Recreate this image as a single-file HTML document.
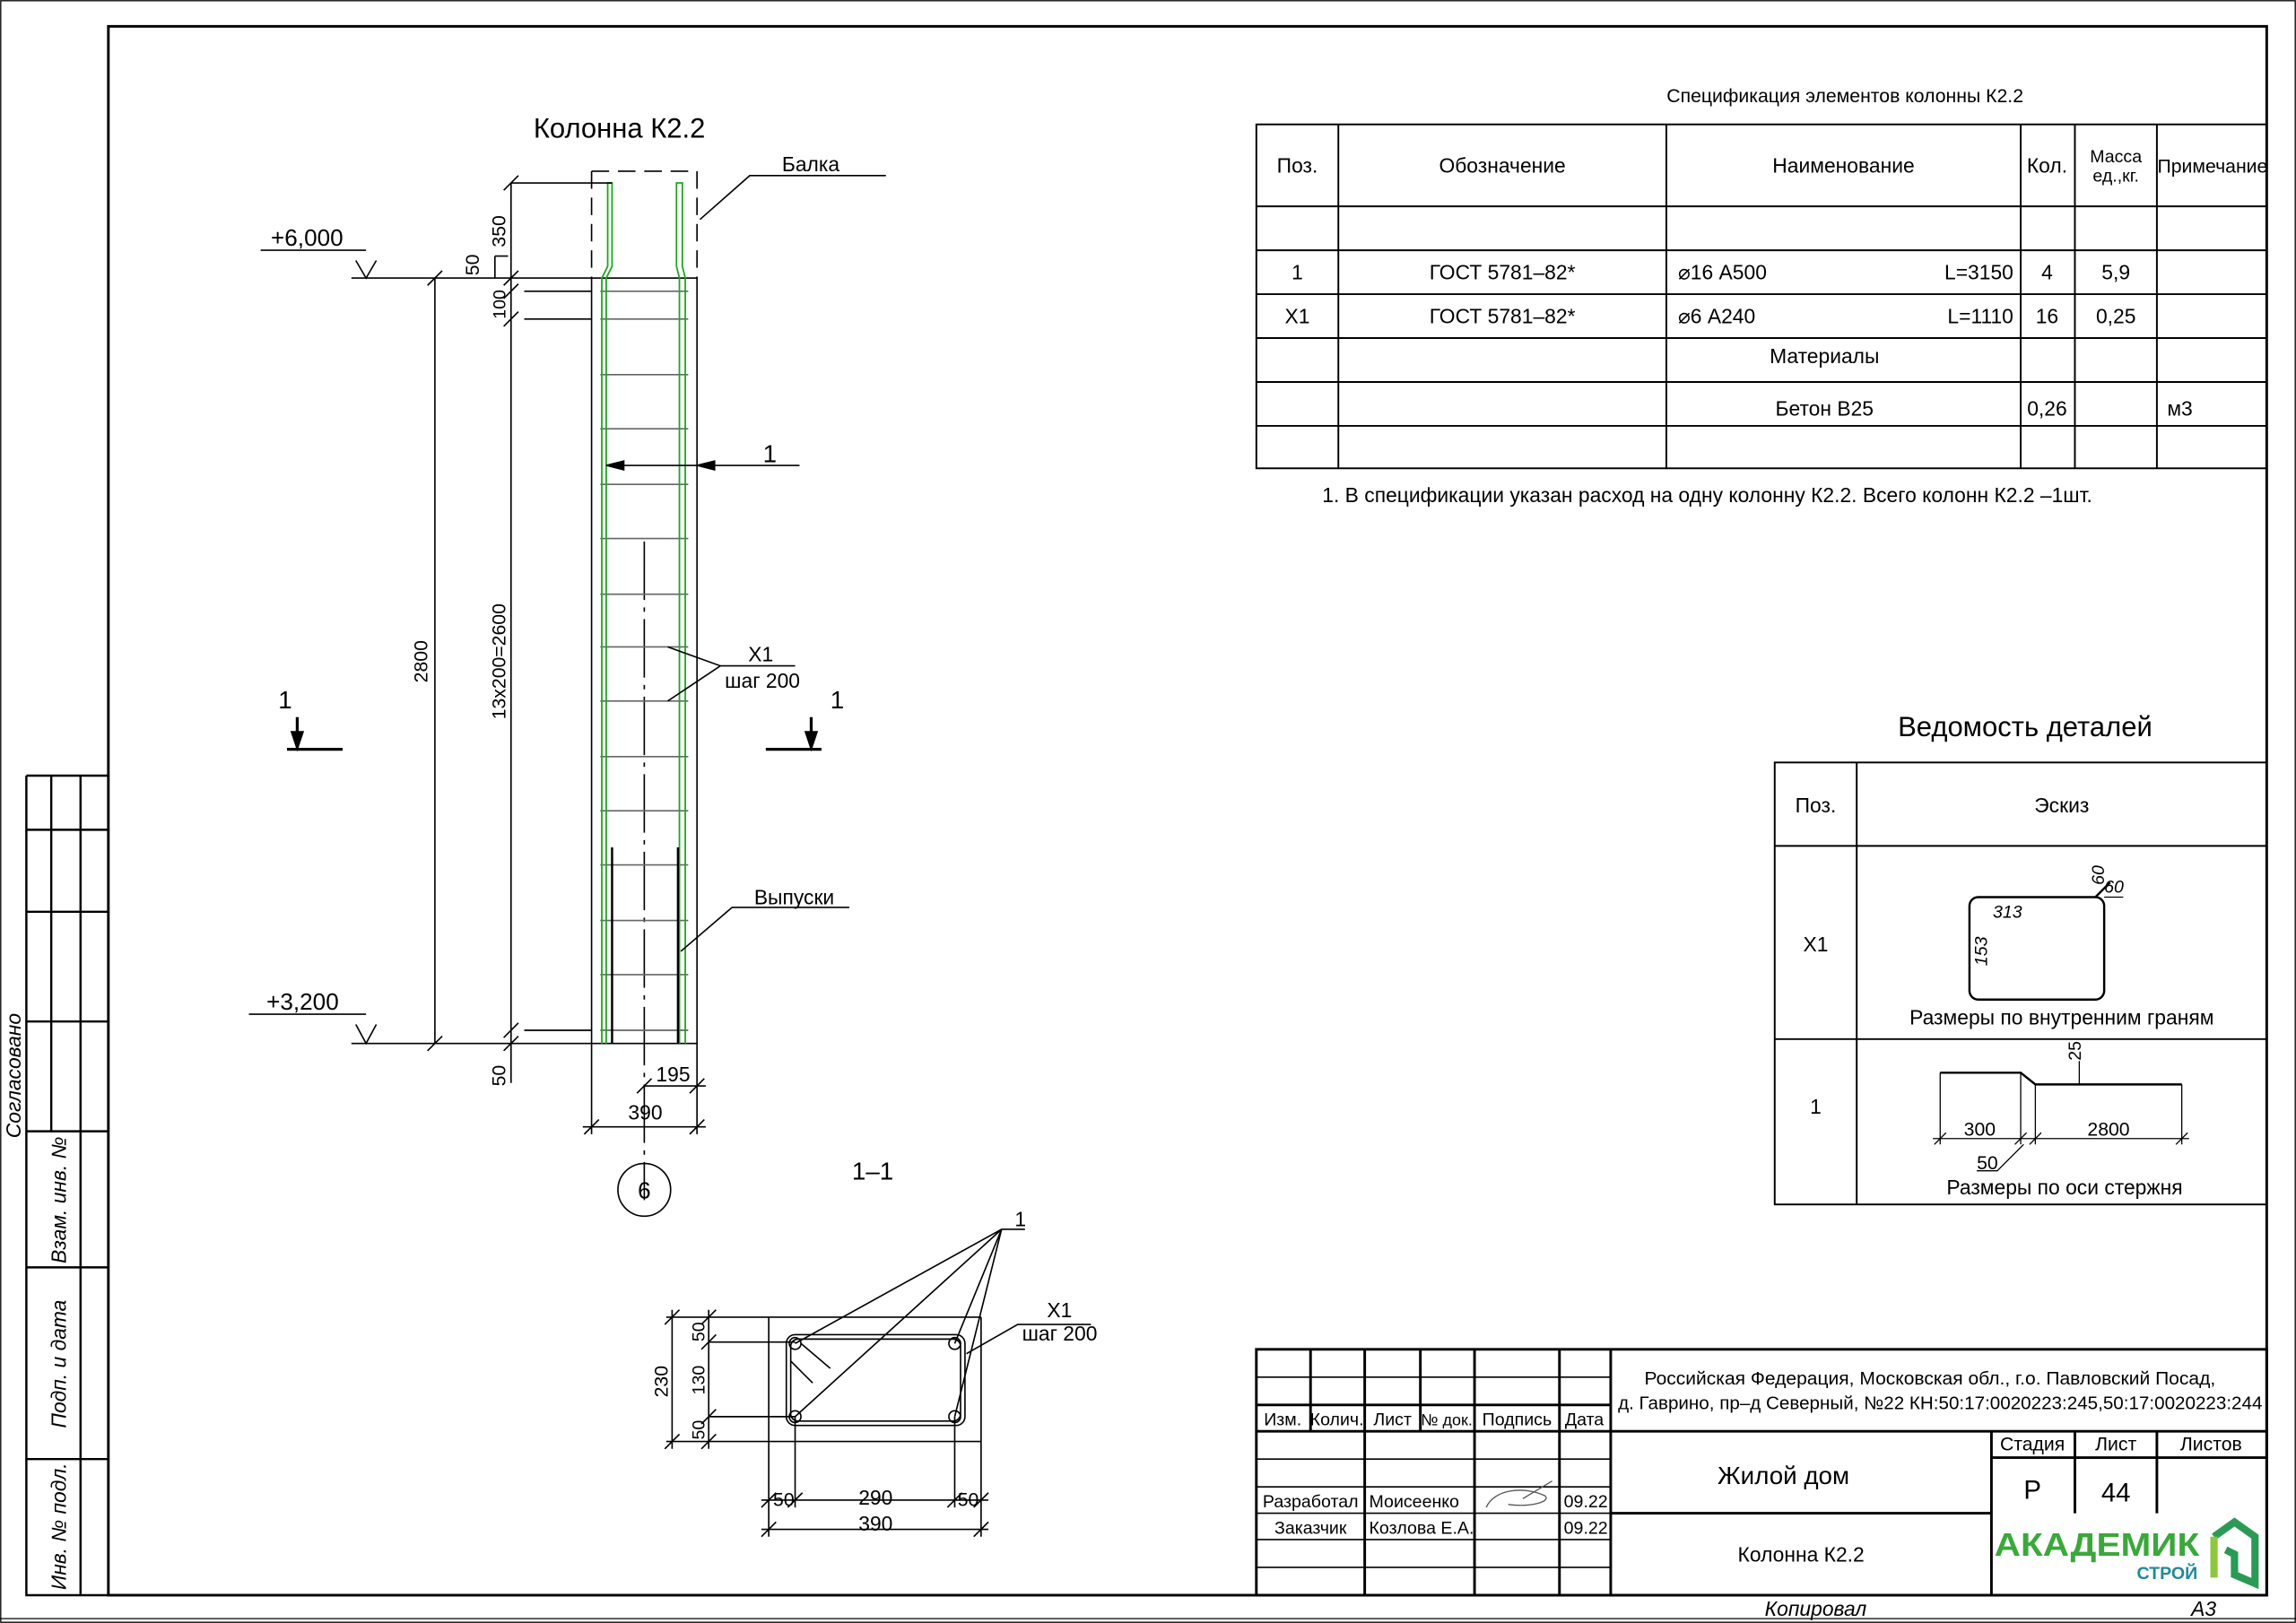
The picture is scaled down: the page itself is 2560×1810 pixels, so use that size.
<!DOCTYPE html>
<html><head><meta charset="utf-8"><style>
html,body{margin:0;padding:0;background:#fff;}
svg{display:block;}
text{font-family:"Liberation Sans Narrow","Liberation Sans",sans-serif;fill:#000;}
</style></head><body>
<svg width="2560" height="1810" viewBox="0 0 1568 1109" preserveAspectRatio="none" xmlns="http://www.w3.org/2000/svg">
<rect x="0.5" y="0.5" width="1567" height="1108" fill="#fff" stroke="#000" stroke-width="0.8"/>
<g fill="none" stroke="#000">
<rect x="74" y="18" width="1474" height="1072" stroke-width="1.8"/>
<g stroke-width="1.5">
<path d="M18 530H74M18 530V1090H74M35 530V773M55 530V1090M18 567H74M18 623H74M18 698H74M18 773H74M18 866H74M18 997H74"/>
</g>
<g stroke-width="1">
<rect x="404" y="190" width="72" height="523"/>
<path d="M404 117H476M404 117V190M476 117V190" stroke-dasharray="12,6"/>
<path d="M440 370V820" stroke-dasharray="40,5,3,5"/>
</g>
<g stroke="#666" stroke-width="1">
<path d="M410 199H470M410 218H470M410 256H470M410 293H470M410 331H470M410 368H470M410 406H470M410 442H470M410 479H470M410 517H470M410 554H470M410 591H470M410 629H470M410 666H470M410 704H470"/>
</g>
<g stroke="#1fa51f" stroke-width="1.1">
<path d="M411 713V190L415 182V125H418V182L414 190V713"/>
<path d="M464 713V190L462 182V125H466V182L468 190V713"/>
</g>
<g stroke-width="1.5"><path d="M418 579V713M463 579V713"/></g>
<g stroke-width="1">
<path d="M297 190V713M292 195L302 185M292 718L302 708"/>
<path d="M349 125V740M344 130L354 120M344 195L354 185M344 204L354 194M344 223L354 213M344 709L354 699M344 718L354 708"/>
<path d="M349 125H418M358 199H404M358 218H404M358 704H404M240 190H404M240 713H404M338 175H347M338 175V190"/>
<path d="M178 171H250M243 178L250 190L257 178M170 693H250M243 700L250 713L257 700"/>
<path d="M196 512H234M523 512H561M203 490V506M554 490V506" stroke-width="2"/>
<path d="M546 318H414"/>
<path d="M478 150L512 120H605M456 442L492 455H543M456 479L492 455M465 650L500 620H580"/>
<path d="M404 713V775M476 713V775M440 742H482M435 747L445 737M471 747L481 737M398 770H482M399 775L409 765M471 775L481 765"/>
<circle cx="440" cy="813" r="18"/>
</g>
<polygon points="203,512 199,500 207,500" fill="#000"/>
<polygon points="554,512 550,500 558,500" fill="#000"/>
<polygon points="414,318 426,315 426,321" fill="#000"/>
<polygon points="476,318 488,315 488,321" fill="#000"/>
<g stroke-width="1">
<path d="M525 900V1050M670 900V1050M455 900H670M455 985H670"/>
<rect x="537" y="912" width="122" height="62" rx="6"/>
<rect x="540" y="915" width="116" height="56" rx="5"/>
<circle cx="543" cy="918" r="4"/><circle cx="652" cy="918" r="4"/><circle cx="543" cy="968" r="4"/><circle cx="652" cy="968" r="4"/>
<path d="M547 918L567 935M540 930L555 945"/>
<path d="M459 895V990M454 905L464 895M454 990L464 980M484 895V990M479 905L489 895M479 922L489 912M479 973L489 963M479 990L489 980M484 917H543M484 968H543"/>
<path d="M543 968V1030M652 968V1030M520 1025H675M520 1030L530 1020M538 1030L548 1020M647 1030L657 1020M665 1030L675 1020M520 1045H675M520 1050L530 1040M665 1050L675 1040"/>
<path d="M700 840H684L543 918M684 840L543 968M684 840L652 918M684 840L652 968M660 925L695 905H745"/>
</g>
<g stroke-width="1.2">
<rect x="858" y="85" width="690" height="235"/>
<path d="M858 141H1548M858 171H1548M858 201H1548M858 231H1548M858 261H1548M858 291H1548M914 85V320M1138 85V320M1380 85V320M1417 85V320M1473 85V320"/>
<rect x="1212" y="521" width="336" height="302"/>
<path d="M1212 578H1548M1212 710H1548M1268 521V823"/>
</g>
<g stroke-width="1.5">
<rect x="1345" y="613" width="92" height="70" rx="6"/>
<path d="M1431 613L1441 603M1325 733H1380L1390 741H1490"/>
</g>
<g stroke-width="0.8">
<path d="M1437 613H1450M1325 733V782M1380 733V782M1390 741V782M1490 741V782M1320 778H1495M1321 782L1329 774M1376 782L1384 774M1386 782L1394 774M1486 782L1494 774M1420 725V741M1350 800H1364L1382 782"/>
</g>
<g stroke-width="1.8">
<rect x="858" y="922" width="690" height="168"/>
<path d="M858 960H1100M858 978H1548M1100 922V1090M1100 1034H1360M1360 978V1090M1417 978V1034M1473 978V1034M1360 996H1548M895 922V978M932 922V1090M970 922V978M1007 922V1090M1065 922V1090"/>
</g>
<g stroke-width="1"><path d="M858 941H1100M858 997H1100M858 1016H1100M858 1034H1100M858 1052H1100M858 1071H1100"/></g>
<path d="M1015 1030C1020 1018 1040 1015 1055 1022C1060 1026 1045 1030 1030 1028M1040 1024L1060 1012" stroke="#555" stroke-width="0.8"/>
<path d="M0 1106H1568" stroke-width="0.8"/>
</g>
<path d="M1512 1050L1526 1040L1540 1050V1082L1526 1076V1062L1520 1059" fill="none" stroke="#2b9a55" stroke-width="5"/>
<path d="M1512 1050V1078" stroke="#8dc63f" stroke-width="5"/>

<g font-size="14">
<text x="423" y="94" font-size="19" text-anchor="middle">Колонна К2.2</text>
<text x="534" y="117">Балка</text>
<text x="185" y="168" font-size="16">+6,000</text>
<text x="182" y="690" font-size="16">+3,200</text>
<text x="190" y="484" font-size="17">1</text>
<text x="567" y="484" font-size="17">1</text>
<text x="521" y="316" font-size="17">1</text>
<text x="511" y="452">Х1</text>
<text x="495" y="470">шаг 200</text>
<text x="515" y="618">Выпуски</text>
<text x="448" y="739">195</text>
<text x="429" y="765">390</text>
<text x="440" y="819" font-size="16" text-anchor="middle">6</text>
<text x="596" y="806" font-size="17" text-anchor="middle">1–1</text>
<text x="693" y="838">1</text>
<text x="715" y="900">Х1</text>
<text x="698" y="916">шаг 200</text>
<text x="528" y="1029" font-size="13">50</text>
<text x="598" y="1028" text-anchor="middle">290</text>
<text x="654" y="1029" font-size="13">50</text>
<text x="598" y="1046" text-anchor="middle">390</text>
<text transform="translate(292,452) rotate(-90)" text-anchor="middle" font-size="13">2800</text>
<text transform="translate(345,158) rotate(-90)" text-anchor="middle" font-size="13">350</text>
<text transform="translate(327,181) rotate(-90)" text-anchor="middle" font-size="13">50</text>
<text transform="translate(345,208) rotate(-90)" text-anchor="middle" font-size="12">100</text>
<text transform="translate(345,452) rotate(-90)" text-anchor="middle" font-size="13">13х200=2600</text>
<text transform="translate(345,735) rotate(-90)" text-anchor="middle" font-size="13">50</text>
<text transform="translate(456,944) rotate(-90)" text-anchor="middle" font-size="13">230</text>
<text transform="translate(481,910) rotate(-90)" text-anchor="middle" font-size="12">50</text>
<text transform="translate(481,943) rotate(-90)" text-anchor="middle" font-size="12">130</text>
<text transform="translate(481,977) rotate(-90)" text-anchor="middle" font-size="12">50</text>
<text transform="translate(14,735) rotate(-90)" text-anchor="middle" font-style="italic">Согласовано</text>
<text transform="translate(45,820) rotate(-90)" text-anchor="middle" font-style="italic">Взам. инв. №</text>
<text transform="translate(45,932) rotate(-90)" text-anchor="middle" font-style="italic">Подп. и дата</text>
<text transform="translate(45,1043) rotate(-90)" text-anchor="middle" font-style="italic">Инв. № подл.</text>

<text x="1260" y="70" text-anchor="middle" font-size="13">Спецификация элементов колонны К2.2</text>
<text x="886" y="118" text-anchor="middle">Поз.</text>
<text x="1026" y="118" text-anchor="middle">Обозначение</text>
<text x="1259" y="118" text-anchor="middle">Наименование</text>
<text x="1398" y="118" text-anchor="middle">Кол.</text>
<text x="1445" y="111" text-anchor="middle" font-size="12">Масса</text>
<text x="1445" y="124" text-anchor="middle" font-size="12">ед.,кг.</text>
<text x="1511" y="118" text-anchor="middle" font-size="13">Примечание</text>
<text x="886" y="191" text-anchor="middle">1</text>
<text x="1026" y="191" text-anchor="middle">ГОСТ 5781–82*</text>
<text x="1146" y="191">⌀16 А500</text>
<text x="1375" y="191" text-anchor="end">L=3150</text>
<text x="1398" y="191" text-anchor="middle">4</text>
<text x="1445" y="191" text-anchor="middle">5,9</text>
<text x="886" y="221" text-anchor="middle">Х1</text>
<text x="1026" y="221" text-anchor="middle">ГОСТ 5781–82*</text>
<text x="1146" y="221">⌀6 А240</text>
<text x="1375" y="221" text-anchor="end">L=1110</text>
<text x="1398" y="221" text-anchor="middle">16</text>
<text x="1445" y="221" text-anchor="middle">0,25</text>
<text x="1246" y="248" text-anchor="middle">Материалы</text>
<text x="1246" y="284" text-anchor="middle">Бетон В25</text>
<text x="1398" y="284" text-anchor="middle">0,26</text>
<text x="1480" y="284">м3</text>
<text x="903" y="343">1. В спецификации указан расход на одну колонну К2.2. Всего колонн К2.2 –1шт.</text>

<text x="1383" y="503" text-anchor="middle" font-size="19">Ведомость деталей</text>
<text x="1240" y="555" text-anchor="middle">Поз.</text>
<text x="1408" y="555" text-anchor="middle">Эскиз</text>
<text x="1240" y="650" text-anchor="middle">Х1</text>
<text x="1361" y="627" font-size="12" font-style="italic">313</text>
<text transform="translate(1357,650) rotate(-90)" text-anchor="middle" font-size="12" font-style="italic">153</text>
<text x="1437" y="610" font-size="12" font-style="italic">60</text>
<text transform="translate(1437,598) rotate(-90)" text-anchor="middle" font-size="12" font-style="italic">60</text>
<text x="1408" y="700" text-anchor="middle">Размеры по внутренним граням</text>
<text x="1240" y="761" text-anchor="middle">1</text>
<text transform="translate(1421,718) rotate(-90)" text-anchor="middle" font-size="12">25</text>
<text x="1352" y="776" text-anchor="middle" font-size="13">300</text>
<text x="1440" y="776" text-anchor="middle" font-size="13">2800</text>
<text x="1350" y="799" font-size="13">50</text>
<text x="1410" y="816" text-anchor="middle">Размеры по оси стержня</text>

<text x="1318" y="946" text-anchor="middle" font-size="12.5" textLength="390" lengthAdjust="spacingAndGlyphs">Российская Федерация, Московская обл., г.о. Павловский Посад,</text>
<text x="1325" y="963" text-anchor="middle" font-size="12.5" textLength="440" lengthAdjust="spacingAndGlyphs">д. Гаврино, пр–д Северный, №22 КН:50:17:0020223:245,50:17:0020223:244</text>
<text x="876" y="974" text-anchor="middle" font-size="12">Изм.</text>
<text x="913" y="974" text-anchor="middle" font-size="12">Колич.</text>
<text x="951" y="974" text-anchor="middle" font-size="12">Лист</text>
<text x="988" y="974" text-anchor="middle" font-size="11">№ док.</text>
<text x="1036" y="974" text-anchor="middle" font-size="12">Подпись</text>
<text x="1082" y="974" text-anchor="middle" font-size="12">Дата</text>
<text x="895" y="1030" text-anchor="middle" font-size="12">Разработал</text>
<text x="935" y="1030" font-size="12">Моисеенко</text>
<text x="1068" y="1030" font-size="12">09.22</text>
<text x="895" y="1048" text-anchor="middle" font-size="12">Заказчик</text>
<text x="935" y="1048" font-size="12">Козлова Е.А.</text>
<text x="1068" y="1048" font-size="12">09.22</text>
<text x="1218" y="1014" text-anchor="middle" font-size="17">Жилой дом</text>
<text x="1230" y="1067" text-anchor="middle">Колонна К2.2</text>
<text x="1388" y="991" text-anchor="middle" font-size="13">Стадия</text>
<text x="1445" y="991" text-anchor="middle" font-size="13">Лист</text>
<text x="1510" y="991" text-anchor="middle" font-size="13">Листов</text>
<text x="1388" y="1024" text-anchor="middle" font-size="18">Р</text>
<text x="1445" y="1026" text-anchor="middle" font-size="18">44</text>
<text x="1432" y="1063" text-anchor="middle" font-size="22" font-weight="bold" textLength="140" lengthAdjust="spacingAndGlyphs" style="fill:#3aa83a">АКАДЕМИК</text>
<text x="1480" y="1079" text-anchor="middle" font-size="12" font-weight="bold" style="fill:#1e8a9a">СТРОЙ</text>
<text x="1240" y="1104" text-anchor="middle" font-style="italic">Копировал</text>
<text x="1505" y="1104" text-anchor="middle" font-style="italic">А3</text>
</g>
</svg>
</body></html>
